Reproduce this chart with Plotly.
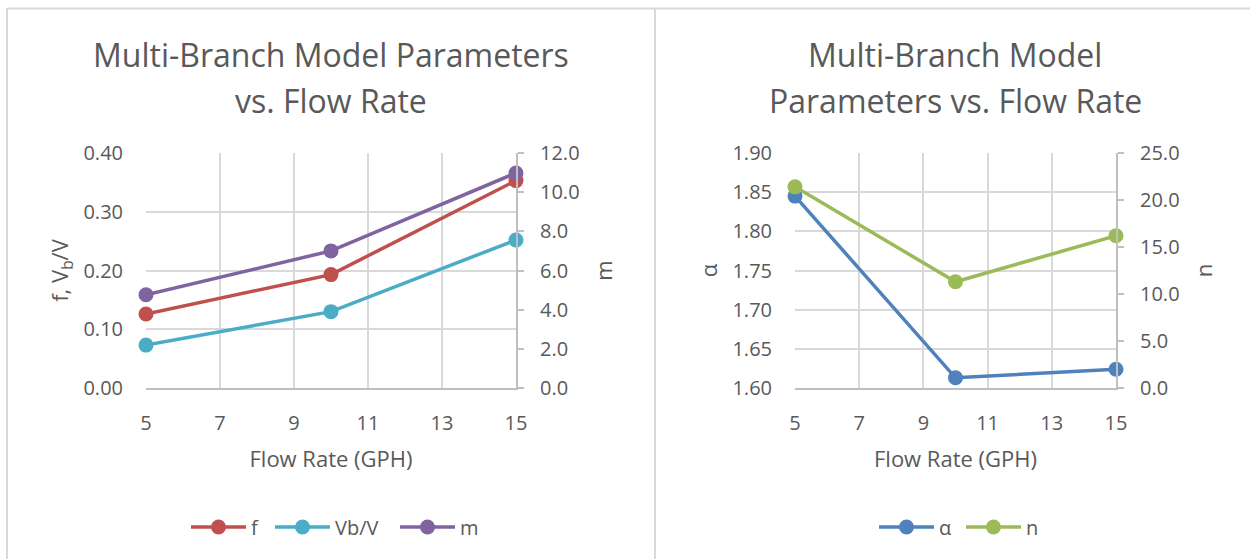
import plotly.graph_objects as go

# Flow rates (GPH)
flow = [5, 10, 15]

# Left chart series
f_vals = [0.126, 0.193, 0.353]
vbv_vals = [0.073, 0.130, 0.252]
m_vals = [4.76, 7.0, 10.98]

# Right chart series
alpha_vals = [1.845, 1.613, 1.624]
n_vals = [21.4, 11.3, 16.2]

x_ticks = [5, 7, 9, 11, 13, 15]

W, H = 1250, 559
def px(x):
    return x / W
def py(y):
    return 1 - y / H

TXT = "#595959"
GRID = "#d9d9d9"
AXL = "#bfbfbf"
FONT = "Open Sans"

fig = go.Figure()

def add_series(x, y, name, color, xa, ya, legend):
    fig.add_trace(go.Scatter(
        x=x, y=y, name=name, mode="lines+markers",
        line=dict(color=color, width=3.5),
        marker=dict(color=color, size=15),
        xaxis=xa, yaxis=ya, legend=legend, cliponaxis=False,
        showlegend=True,
    ))

# one legend per entry so each key sits at its own spot
add_series(flow, f_vals, "f", "#C0504D", "x", "y", "legend")
add_series(flow, vbv_vals, "Vb/V", "#4BACC6", "x", "y", "legend2")
add_series(flow, m_vals, "m", "#8064A2", "x", "y2", "legend3")
add_series(flow, alpha_vals, "α", "#4F81BD", "x2", "y3", "legend4")
add_series(flow, n_vals, "n", "#9BBB59", "x2", "y4", "legend5")

ydom = [py(388), py(153)]
tickfont = dict(size=20, color=TXT, family=FONT)
titlefont = dict(size=22, color=TXT, family=FONT)

def xaxis_cfg(x0, x1, anchor):
    return dict(
        domain=[px(x0), px(x1)], range=[5, 15], tickvals=x_ticks,
        showgrid=True, gridcolor=GRID, gridwidth=1.5, zeroline=False,
        showline=True, linecolor=AXL, linewidth=2, ticks="",
        tickfont=tickfont, ticklabelstandoff=16, anchor=anchor,
        automargin=False,
        title=dict(text="Flow Rate (GPH)", font=titlefont, standoff=17),
    )

def yleft_cfg(rng, dtick, fmt, title, anchor):
    return dict(
        domain=ydom, range=rng, dtick=dtick, tickformat=fmt,
        showgrid=True, gridcolor=GRID, gridwidth=1.5, zeroline=False,
        showline=False, ticks="", tickfont=tickfont, ticklabelstandoff=22,
        anchor=anchor, automargin=False,
        title=dict(text=title, font=titlefont, standoff=8),
    )

def yright_cfg(rng, dtick, fmt, title, anchor, overlay):
    return dict(
        domain=ydom, range=rng, dtick=dtick, tickformat=fmt,
        overlaying=overlay, side="right", anchor=anchor,
        showgrid=False, zeroline=False, showline=True, linecolor=AXL,
        linewidth=2, ticks="outside", ticklen=6, tickcolor=AXL, tickwidth=2,
        tickfont=tickfont, ticklabelstandoff=12, automargin=False,
        title=dict(text=title, font=titlefont, standoff=18),
    )

legend_font = dict(size=20, color=TXT, family=FONT)

def legend_cfg(xpix):
    return dict(orientation="h", x=px(xpix), y=py(527), xanchor="left",
                yanchor="middle", font=legend_font, itemwidth=55,
                bgcolor="rgba(0,0,0,0)", visible=True)

fig.update_layout(
    width=W, height=H,
    showlegend=True,
    margin=dict(l=0, r=0, t=0, b=0, autoexpand=False),
    paper_bgcolor="white", plot_bgcolor="white",
    font=dict(family=FONT, color=TXT),
    xaxis=xaxis_cfg(146, 516, "y"),
    yaxis=yleft_cfg([0, 0.4], 0.1, ".2f", "f, V<sub>b</sub>/V", "x"),
    yaxis2=yright_cfg([0, 12], 2, ".1f", "m", "x", "y"),
    xaxis2=xaxis_cfg(795, 1116, "y3"),
    yaxis3=yleft_cfg([1.6, 1.9], 0.05, ".2f", "α", "x2"),
    yaxis4=yright_cfg([0, 25], 5, ".1f", "n", "x2", "y3"),
    legend=legend_cfg(186),
    legend2=legend_cfg(270),
    legend3=legend_cfg(395),
    legend4=legend_cfg(874),
    legend5=legend_cfg(961),
)

# Chart titles
titles = [
    (331, 55, "Multi-Branch Model Parameters"),
    (331, 100, "vs. Flow Rate"),
    (955, 55, "Multi-Branch Model"),
    (955, 100, "Parameters vs. Flow Rate"),
]
for cx, cy, t in titles:
    fig.add_annotation(text=t, x=px(cx), y=py(cy), xref="paper", yref="paper",
                       xanchor="center", yanchor="middle", showarrow=False,
                       font=dict(size=32, color=TXT, family=FONT))

# Chart frames
frame = dict(color=GRID, width=2)
fig.add_shape(type="line", xref="paper", yref="paper",
              x0=px(7), x1=px(1250), y0=py(8.5), y1=py(8.5), line=frame)
fig.add_shape(type="line", xref="paper", yref="paper",
              x0=px(7), x1=px(7), y0=py(8.5), y1=py(560), line=frame)
fig.add_shape(type="line", xref="paper", yref="paper",
              x0=px(655), x1=px(655), y0=py(8.5), y1=py(560), line=frame)

fig.write_html("out.html")
